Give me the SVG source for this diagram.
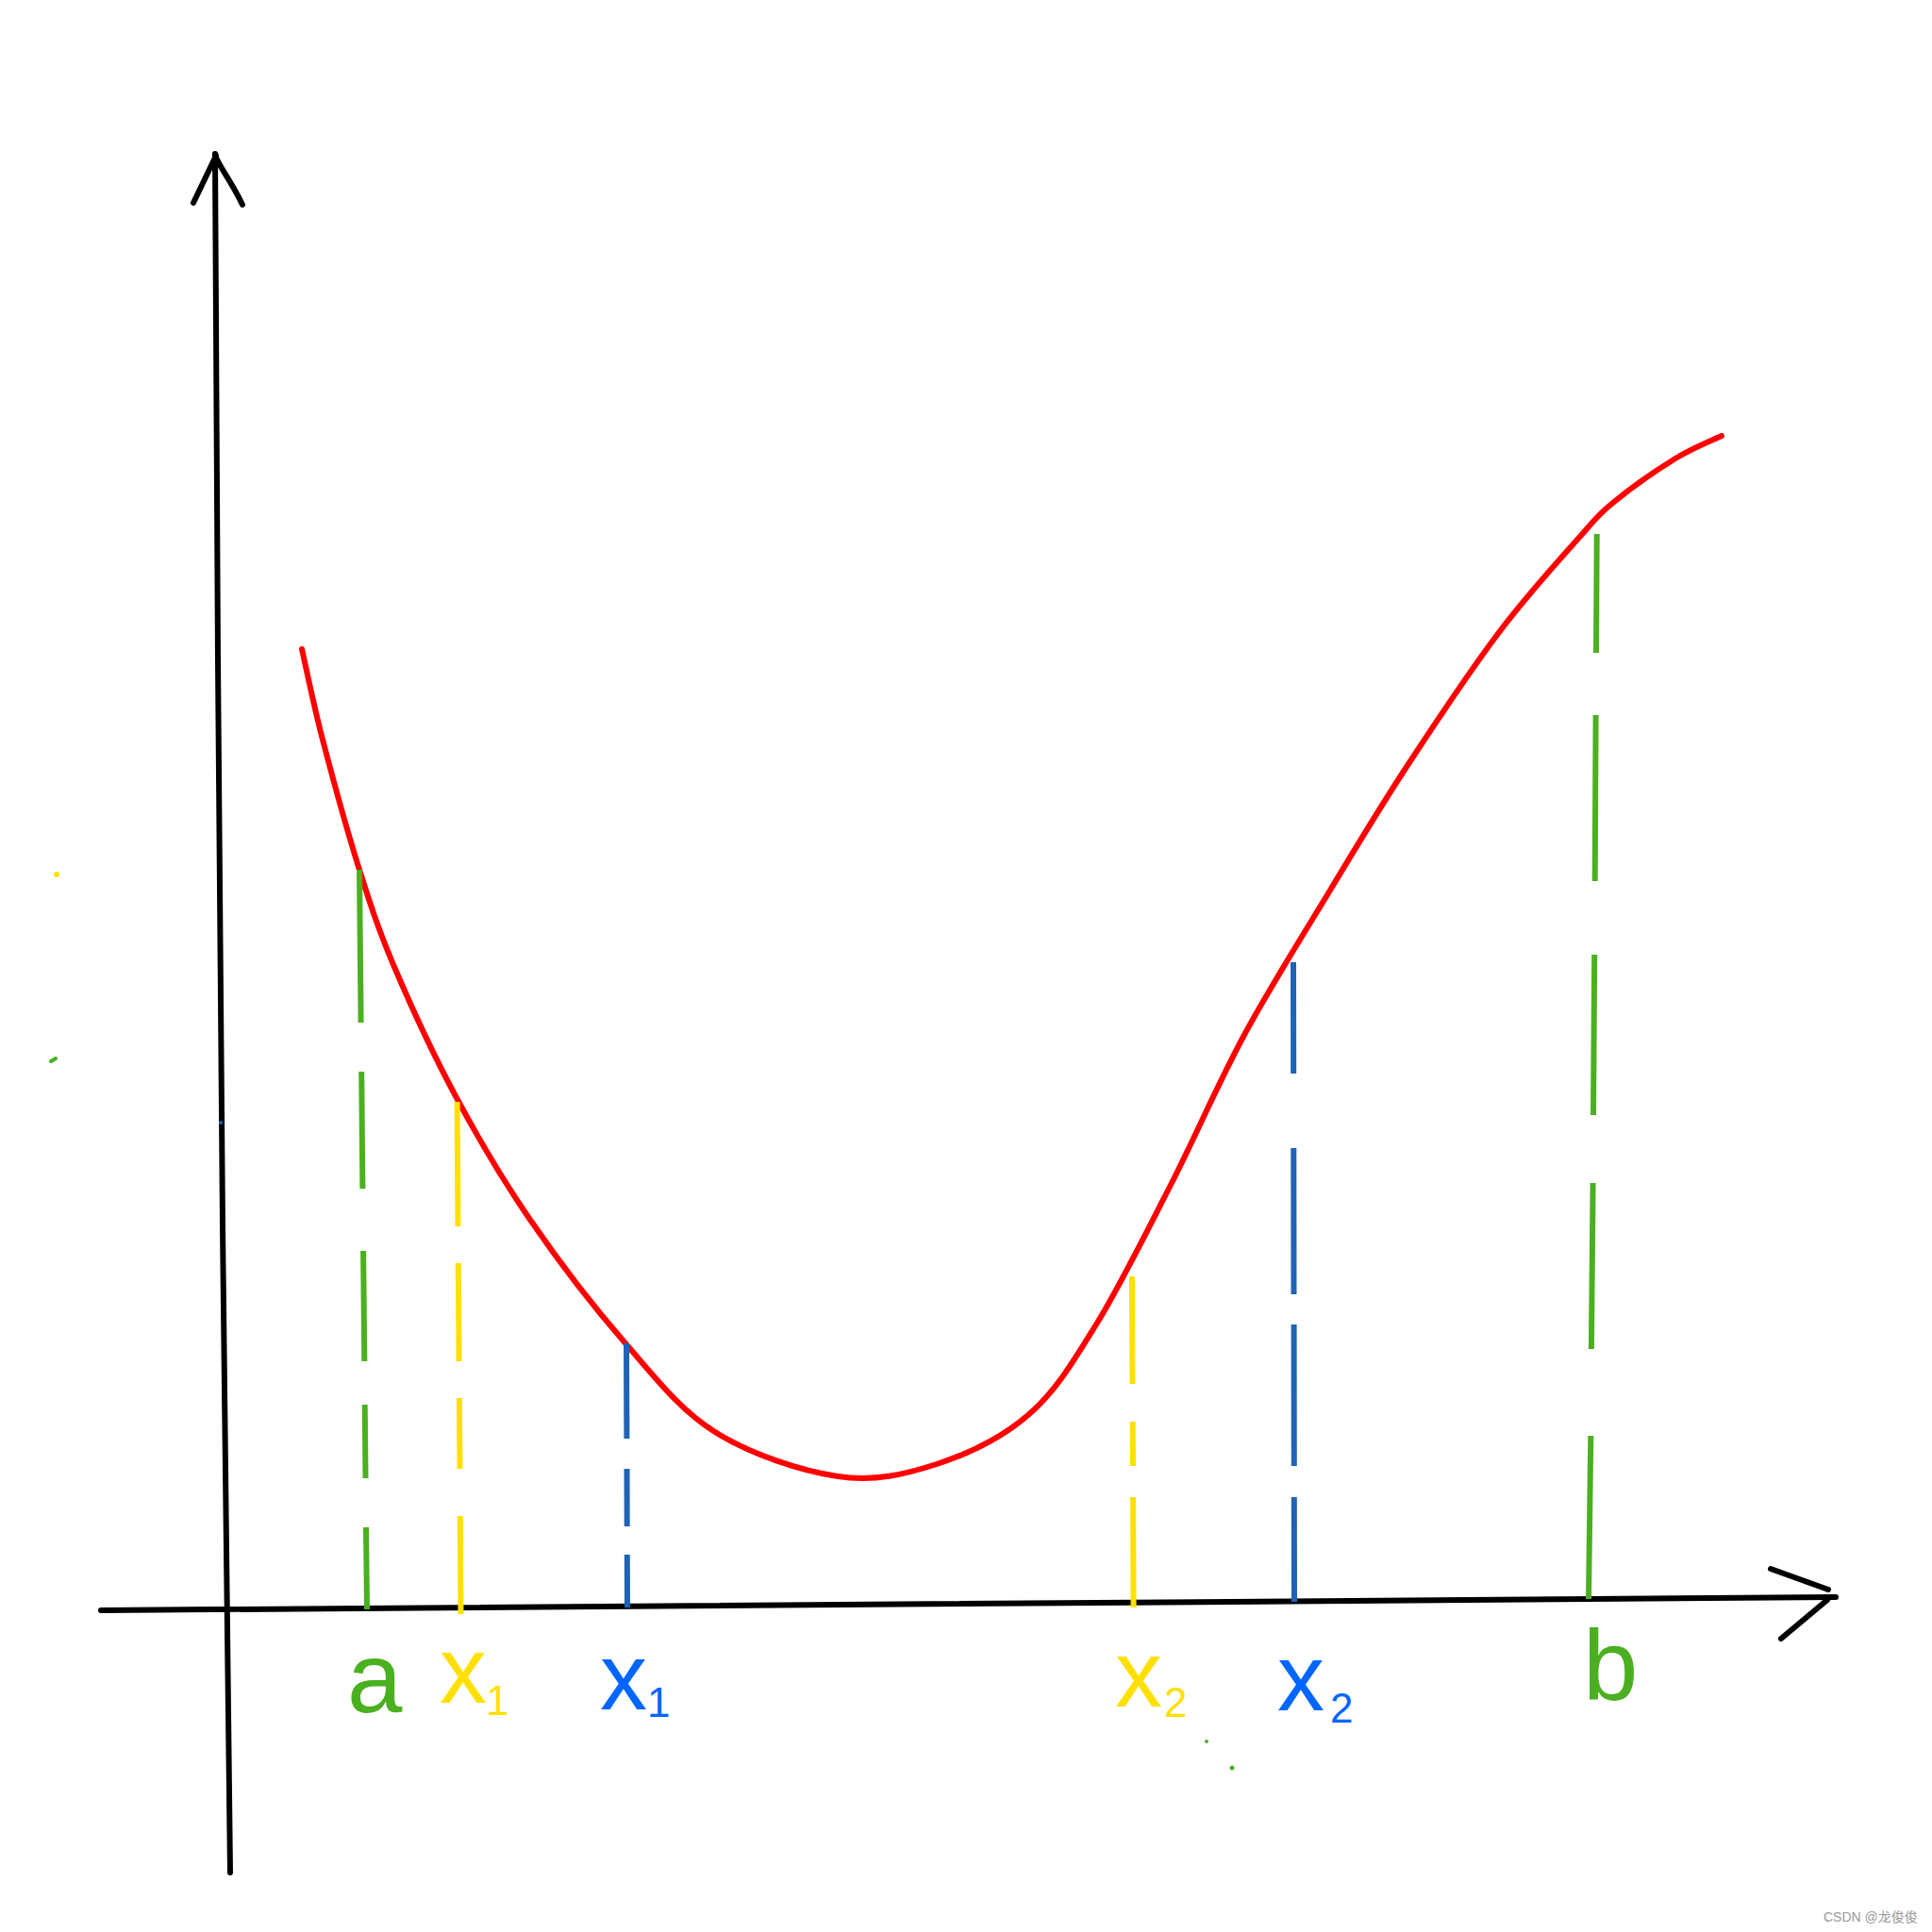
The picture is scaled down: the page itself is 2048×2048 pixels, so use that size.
<svg xmlns="http://www.w3.org/2000/svg" width="2048" height="2048" viewBox="0 0 2048 2048">
<style>
.ax{fill:none;stroke:#000;stroke-width:6;stroke-linecap:round;stroke-linejoin:round}
.curve{fill:none;stroke:#ff0000;stroke-width:6;stroke-linecap:round;stroke-linejoin:round}
.g{stroke:#4bb020;stroke-width:6;stroke-linecap:butt;fill:none}
.y{stroke:#ffe000;stroke-width:6;stroke-linecap:butt;fill:none}
.b{stroke:#1f63b5;stroke-width:6;stroke-linecap:butt;fill:none}
.lbl{font-family:"Liberation Sans",Arial,sans-serif}
.wm{font-family:"Liberation Sans","Noto Sans CJK SC",sans-serif;font-size:14px;fill:#9a9a9a}
</style>
<rect width="2048" height="2048" fill="#fff"/>
<g id="axes">
<path class="ax" d="M228 163 L231 700 L236 1300 L244 1985"/>
<path class="ax" d="M205 215 L229 165 M229 167 C236 182 245 192 257 217"/>
<path class="ax" d="M107 1707 L1946 1693"/>
<path class="ax" d="M1877 1663 L1938 1685 M1888 1737 L1937 1696"/>
</g>
<g id="curve">
<path class="curve" d="M320 688 C323.7 704 331.8 745 342 784 C352.2 823 368.3 881.8 381 922 C393.7 962.2 401 985 418 1025 C435 1065 459 1117.3 483 1162 C507 1206.7 532 1249.3 562 1293 C592 1336.7 630.3 1386.5 663 1424 C695.7 1461.5 720.5 1494.5 758 1518 C795.5 1541.5 848.8 1559.3 888 1565 C927.2 1570.7 959.2 1563 993 1552 C1026.8 1541 1062.8 1523.7 1091 1499 C1119.2 1474.3 1137 1444.5 1162 1404 C1187 1363.5 1214.8 1307.2 1241 1256 C1267.2 1204.8 1290.7 1149.3 1319 1097 C1347.3 1044.7 1382.7 988.8 1411 942 C1439.3 895.2 1459.7 860.8 1489 816 C1518.3 771.2 1556.5 713.7 1587 673 C1617.5 632.3 1651.3 595.5 1672 572 C1692.7 548.5 1693.7 546.3 1711 532 C1728.3 517.7 1757 497.7 1776 486 C1795 474.3 1816.8 466 1825 462"/>
</g>
<g id="connectors">
<path class="g" d="M381 922 L382.6 1084 M383.2 1136 L384.4 1260 M385.1 1326 L386.3 1443 M386.7 1489 L387.5 1567 M388 1619 L389 1706"/>
<path class="y" d="M484.6 1168 L485.5 1300 M485.8 1339 L486.6 1443 M486.9 1482 L487.5 1557 M487.8 1607 L488.5 1711"/>
<path class="b" d="M664 1424 L664.4 1525 M664.5 1557 L664.7 1618 M664.8 1648 L665 1704"/>
<path class="y" d="M1200 1353 L1200.5 1467 M1200.7 1507 L1201 1554 M1201.1 1587 L1201.6 1704"/>
<path class="b" d="M1371 1020 L1371.2 1138 M1371.3 1217 L1371.5 1372 M1371.6 1404 L1371.8 1554 M1371.8 1587 L1372 1698"/>
<path class="g" d="M1692.7 566 L1692 692 M1691.6 758 L1690.7 934 M1690.2 1012 L1689 1182 M1688.6 1254 L1686.9 1430 M1686.3 1522 L1684 1695"/>
</g>
<g id="label-a"><text class="lbl" x="368" y="1815" font-size="105" fill="#4bb020">a</text></g>
<g id="label-x1-yellow"><text class="lbl" x="466" y="1805" font-size="100" fill="#ffe000">x</text><text class="lbl" x="515" y="1818" font-size="44" fill="#ffe000">1</text></g>
<g id="label-x1-blue"><text class="lbl" x="636" y="1812" font-size="100" fill="#0066ff">x</text><text class="lbl" x="686" y="1820" font-size="44" fill="#0066ff">1</text></g>
<g id="label-x2-yellow"><text class="lbl" x="1182" y="1809" font-size="100" fill="#ffe000">x</text><text class="lbl" x="1234" y="1820" font-size="44" fill="#ffe000">2</text></g>
<g id="label-x2-blue"><text class="lbl" x="1354" y="1813" font-size="100" fill="#0066ff">x</text><text class="lbl" x="1410" y="1826" font-size="44" fill="#0066ff">2</text></g>
<g id="label-b"><text class="lbl" x="1678" y="1802" font-size="105" fill="#4bb020">b</text></g>
<g id="marks">
<circle cx="60" cy="927" r="3" fill="#ffe000"/>
<path d="M54 1125 L59 1122" stroke="#4bb020" stroke-width="4" stroke-linecap="round"/>
<circle cx="234" cy="1190" r="2" fill="#1f63b5"/>
<circle cx="1279" cy="1846" r="2" fill="#4bb020"/>
<circle cx="1306" cy="1874" r="2.5" fill="#4bb020"/>
</g>
<text class="wm" x="1933" y="2037">CSDN @龙俊俊</text>
</svg>
